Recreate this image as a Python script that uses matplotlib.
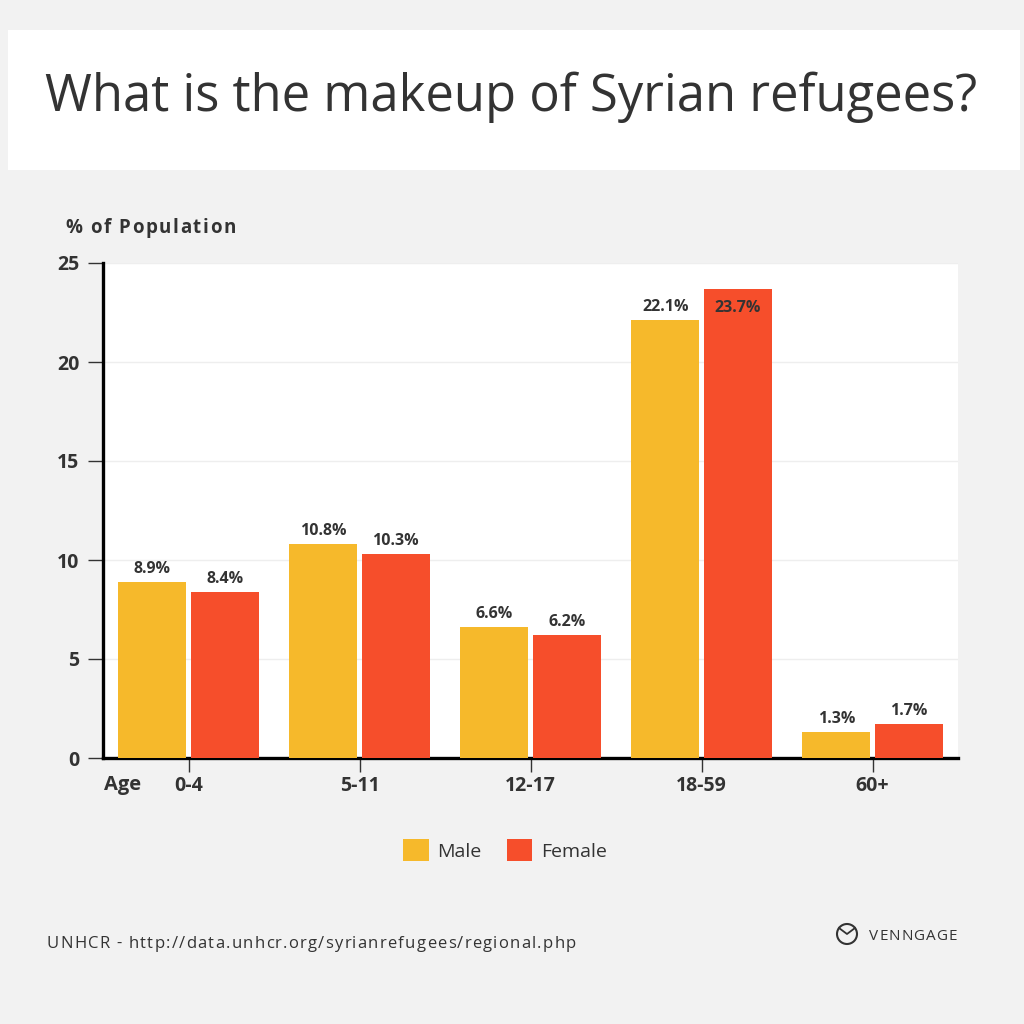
import matplotlib
matplotlib.use("Agg")
import matplotlib.pyplot as plt
from matplotlib.patches import Rectangle, Circle
import numpy as np

plt.rcParams['font.family'] = ['Open Sans', 'DejaVu Sans']

age_groups = ['0-4', '5-11', '12-17', '18-59', '60+']
male = [8.9, 10.8, 6.6, 22.1, 1.3]
female = [8.4, 10.3, 6.2, 23.7, 1.7]
y_ticks = [0, 5, 10, 15, 20, 25]

MALE_COLOR = '#F6B92B'
FEMALE_COLOR = '#F64E2B'
TEXT_COLOR = '#333333'
W = H = 1024


def px(x, y):
    # pixel coords (top-left origin) -> figure fraction
    return x / W, 1 - y / H


fig = plt.figure(figsize=(10.24, 10.24), dpi=100, facecolor='#f2f2f2')
renderer = fig.canvas.get_renderer()


def spaced_text(x, y, s, spacing, **kw):
    # text with extra letter spacing, x/y in pixels, y is baseline
    probe = fig.text(0, 0, '', **kw)

    def width(t):
        probe.set_text(t + '|')
        w1 = probe.get_window_extent(renderer).width
        probe.set_text('|')
        return w1 - probe.get_window_extent(renderer).width

    for i, ch in enumerate(s):
        if ch == ' ':
            continue
        fig.text((x + width(s[:i]) + i * spacing) / W, 1 - y / H, ch,
                 ha='left', va='baseline', **kw)
    probe.remove()


# title box
fig.patches.append(Rectangle(px(8, 170), 1012 / W, 140 / H, transform=fig.transFigure,
                             facecolor='white', edgecolor='none', zorder=0))
fig.text(*px(511, 111), 'What is the makeup of Syrian refugees?', ha='center', va='baseline',
         fontsize=36.5, color=TEXT_COLOR)

left, top, right, bottom = 103, 263, 958, 758
ax = fig.add_axes([left / W, 1 - bottom / H, (right - left) / W, (bottom - top) / H])
ax.set_facecolor('white')

x = np.arange(len(age_groups))
bw = 0.40
gap = 0.012
ax.bar(x - bw / 2 - gap, male, bw, color=MALE_COLOR, label='Male', zorder=3)
ax.bar(x + bw / 2 + gap, female, bw, color=FEMALE_COLOR, label='Female', zorder=3)

for i in range(len(age_groups)):
    for val, xpos in ((male[i], x[i] - bw / 2 - gap), (female[i], x[i] + bw / 2 + gap)):
        if val > 23:
            ax.text(xpos, val - 0.55, f'{val}%', ha='center', va='top', fontsize=11.5,
                    fontweight='bold', color=TEXT_COLOR, zorder=4)
        else:
            ax.text(xpos, val + 0.25, f'{val}%', ha='center', va='bottom', fontsize=11.5,
                    fontweight='bold', color=TEXT_COLOR, zorder=4)

ax.set_xlim(-0.5, len(age_groups) - 0.5)
ax.set_ylim(0, 25)
ax.set_yticks(y_ticks)
ax.set_xticks(x)
ax.set_xticklabels(age_groups)
ax.grid(axis='y', color='#eeeeee', linewidth=1, zorder=0)
ax.set_axisbelow(True)

for s in ('top', 'right'):
    ax.spines[s].set_visible(False)
for s in ('left', 'bottom'):
    ax.spines[s].set_linewidth(2.4)
    ax.spines[s].set_color('black')

ax.tick_params(axis='y', length=11, width=1, color='#333333', pad=6)
ax.tick_params(axis='x', length=10, width=1, color='#333333', pad=3)
for lab in ax.get_xticklabels() + ax.get_yticklabels():
    lab.set_fontsize(14)
    lab.set_fontweight('bold')
    lab.set_color(TEXT_COLOR)

spaced_text(65, 233, '% of Population', 1.6, fontsize=13.5, fontweight='bold', color=TEXT_COLOR)
fig.text(*px(104, 790), 'Age', ha='left', va='baseline', fontsize=14.5,
         fontweight='bold', color=TEXT_COLOR)

leg = fig.legend(loc='center', bbox_to_anchor=px(505, 850), ncol=2, frameon=False,
                 fontsize=14, handlelength=1.3, handleheight=1.3, columnspacing=1.3,
                 handletextpad=0.45)
for t in leg.get_texts():
    t.set_color(TEXT_COLOR)

spaced_text(47, 948, 'UNHCR - http://data.unhcr.org/syrianrefugees/regional.php', 1.25,
            fontsize=12, color=TEXT_COLOR)

# logo
fig.patches.append(Circle((847, H - 934), 10, transform=None, facecolor='none',
                          edgecolor=TEXT_COLOR, linewidth=1.5))
fig.lines.append(plt.Line2D([839 / W, 847 / W, 855 / W], [1 - 928 / H, 1 - 934 / H, 1 - 928 / H],
                            transform=fig.transFigure, color=TEXT_COLOR, linewidth=1.3))
spaced_text(869, 940, 'VENNGAGE', 1.0, fontsize=11, color=TEXT_COLOR)

fig.savefig('out.png', dpi=100, facecolor=fig.get_facecolor())
